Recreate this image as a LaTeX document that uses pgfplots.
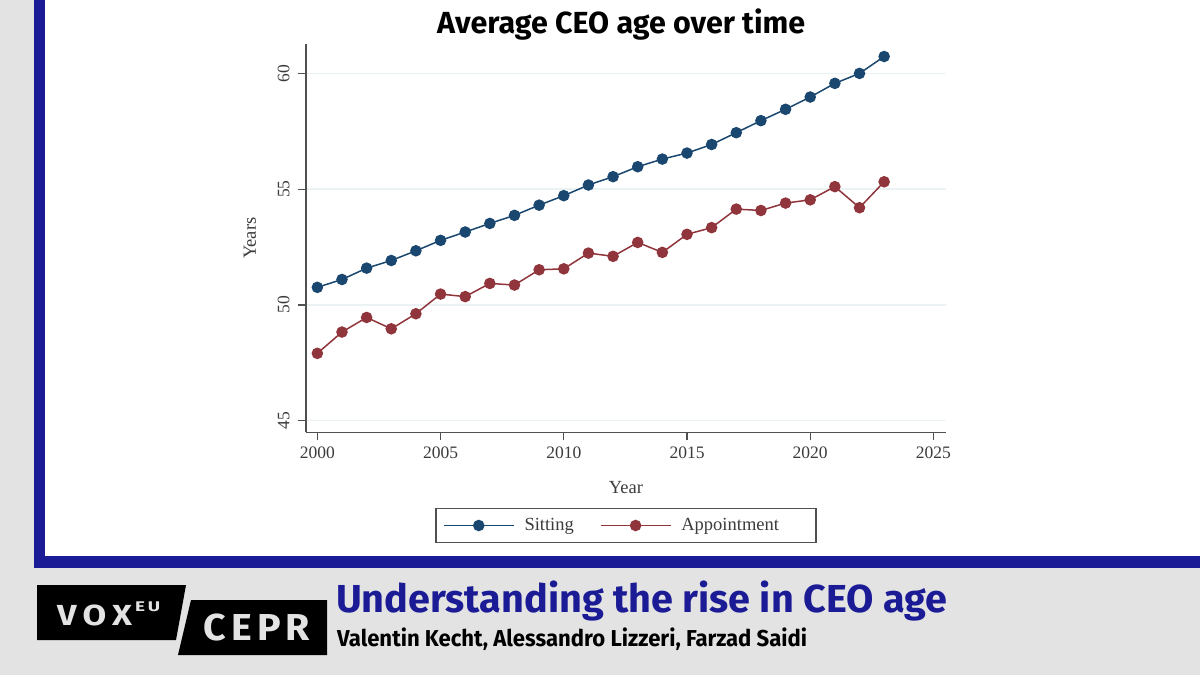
\documentclass[border=0pt]{standalone}
\usepackage{fontspec}
\usepackage{graphicx}
\usepackage{pgfplots}
\pgfplotsset{compat=1.18}
\setmainfont{Liberation Serif}
\newfontfamily\fira{Fira Sans}
\definecolor{bggray}{RGB}{227,227,227}
\definecolor{voxblue}{RGB}{27,27,150}
\definecolor{stnavy}{RGB}{26,71,111}
\definecolor{stmaroon}{RGB}{144,53,59}
\definecolor{gridc}{RGB}{234,242,243}
\definecolor{axc}{RGB}{80,80,80}
\definecolor{txc}{RGB}{60,60,60}
\begin{document}
\begin{tikzpicture}[x=1pt,y=1pt]
\useasboundingbox (0pt,0pt) rectangle (1200pt,-675pt);
% background and frame
\fill[bggray] (0pt,0pt) rectangle (1200pt,-675pt);
\fill[voxblue] (34pt,0pt) rectangle (1200pt,-568pt);
\fill[white] (45pt,0pt) rectangle (1200pt,-556pt);
% chart title
\node[anchor=base west, inner sep=0pt] at (437pt,-33pt)
  {\resizebox{368pt}{\height}{\fira\bfseries\fontsize{30.5}{32}\selectfont Average CEO age over time}};
\begin{axis}[
  at={(306pt,-432.3pt)}, anchor=south west,
  scale only axis, width=640pt, height=388.3pt,
  xmin=1999.54, xmax=2025.51, ymin=44.5, ymax=61.27,
  axis x line*=bottom, axis y line*=left,
  axis line style={axc, line width=1.6pt, -},
  xtick={2000,2005,...,2025}, ytick={45,50,55,60},
  tick align=outside, major tick length=8pt,
  tick style={axc, line width=1.3pt},
  ymajorgrids, grid style={gridc, line width=1.4pt},
  /pgf/number format/assume math mode=true,
  xticklabel={\pgfmathprintnumber[1000 sep={}]{\tick}},
  ticklabel style={font=\fontsize{17.5}{18}\selectfont, text=txc},
  yticklabel style={rotate=90, anchor=south},
  yticklabel shift={5pt}, xticklabel shift={3pt},
  xlabel={Year}, ylabel={Years},
  every axis x label/.style={at={(axis description cs:0.5,-0.141)}, anchor=center, font=\fontsize{18.5}{20}\selectfont, text=txc},
  every axis y label/.style={at={(axis description cs:-0.0875,0.5)}, anchor=center, rotate=90, font=\fontsize{18.5}{20}\selectfont, text=txc},
  clip=false,
  legend columns=2,
  legend image code/.code={\draw[mark repeat=2,mark phase=2,#1] plot coordinates {(0pt,0pt) (35pt,0pt) (70pt,0pt)};},
  legend style={at={(axis description cs:0.5,-0.195)}, anchor=north,
    draw=axc, line width=1.2pt, font=\fontsize{18.5}{20}\selectfont, text=txc,
    inner xsep=7pt, inner ysep=8pt,
    /tikz/every odd column/.append style={column sep=8pt},
    /tikz/every even column/.append style={column sep=24pt}},
]
\addplot[stnavy, line width=1.5pt, mark=*, mark size=5pt, mark options={solid, fill=stnavy}] coordinates {
(2000,50.76) (2001,51.10) (2002,51.59) (2003,51.92) (2004,52.34) (2005,52.79)
(2006,53.15) (2007,53.52) (2008,53.87) (2009,54.31) (2010,54.72) (2011,55.18)
(2012,55.54) (2013,55.97) (2014,56.30) (2015,56.56) (2016,56.93) (2017,57.44)
(2018,57.96) (2019,58.45) (2020,58.98) (2021,59.57) (2022,60.00) (2023,60.73)};
\addlegendentry{Sitting}
\addplot[stmaroon, line width=1.5pt, mark=*, mark size=5pt, mark options={solid, fill=stmaroon}] coordinates {
(2000,47.91) (2001,48.83) (2002,49.46) (2003,48.97) (2004,49.62) (2005,50.47)
(2006,50.36) (2007,50.93) (2008,50.86) (2009,51.52) (2010,51.56) (2011,52.24)
(2012,52.10) (2013,52.70) (2014,52.27) (2015,53.05) (2016,53.34) (2017,54.14)
(2018,54.08) (2019,54.40) (2020,54.54) (2021,55.11) (2022,54.20) (2023,55.32)};
\addlegendentry{Appointment\hspace{28pt}\null}
\end{axis}
% logo
\fill[black] (37pt,-585pt) -- (186pt,-585pt) -- (176pt,-640pt) -- (37pt,-640pt) -- cycle;
\fill[black] (191pt,-600pt) -- (327pt,-600pt) -- (327pt,-655pt) -- (178pt,-655pt) -- cycle;
\node[anchor=base west, inner sep=0pt, text=bggray] at (57pt,-625pt)
  {\resizebox{75pt}{\height}{\fira\bfseries\fontsize{29}{30}\selectfont V\hspace{5pt}O\hspace{5pt}X}};
\node[anchor=base west, inner sep=0pt, text=bggray] at (135pt,-611pt)
  {\resizebox{25pt}{\height}{\fira\bfseries\fontsize{14}{15}\selectfont E\hspace{2pt}U}};
\node[anchor=base west, inner sep=0pt, text=bggray] at (203pt,-640pt)
  {\resizebox{107pt}{\height}{\fira\bfseries\fontsize{37.5}{38}\selectfont C\hspace{5pt}E\hspace{5pt}P\hspace{5pt}R}};
% headline
\node[anchor=base west, inner sep=0pt, text=voxblue] at (336pt,-612pt)
  {\resizebox{611pt}{\height}{\fira\bfseries\fontsize{39}{40}\selectfont Understanding the rise in CEO age}};
\node[anchor=base west, inner sep=0pt, text=black] at (337pt,-646.5pt)
  {\resizebox{470pt}{\height}{\fira\bfseries\fontsize{23}{24}\selectfont Valentin Kecht, Alessandro Lizzeri, Farzad Saidi}};
\end{tikzpicture}
\end{document}
